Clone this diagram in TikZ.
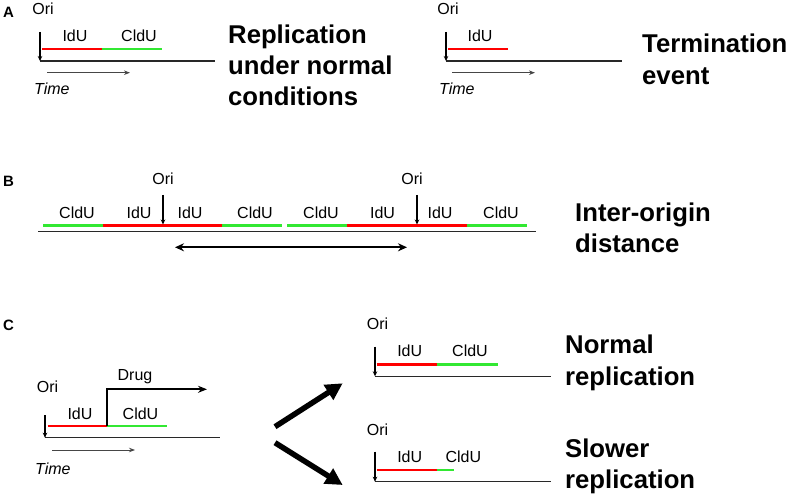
\documentclass[tikz,border=0pt]{standalone}
\usepackage{fontspec}
\setmainfont{Liberation Sans}
\usetikzlibrary{arrows.meta}
\definecolor{idured}{RGB}{255,0,0}
\definecolor{cldugreen}{RGB}{50,232,50}
\definecolor{dnagray}{RGB}{40,40,40}
\definecolor{timegray}{RGB}{70,70,70}
\tikzset{
  lbl/.style={font=\fontsize{16}{19}\selectfont, anchor=base, inner sep=0pt},
  timelbl/.style={font=\fontsize{16}{19}\selectfont\itshape, anchor=base west, inner sep=0pt},
  bigtxt/.style={font=\fontsize{25.7}{32}\selectfont\bfseries, anchor=base west, inner sep=0pt},
  paneltxt/.style={font=\fontsize{15}{18}\selectfont\bfseries, anchor=base west, inner sep=0pt},
  dna/.style={line width=1.3pt, draw=dnagray},
  oriarrow/.style={line width=1.2pt, draw=black, -{Stealth[length=5pt,width=4.5pt]}},
  iduseg/.style={line width=2.7pt, draw=idured},
  clduseg/.style={line width=2.7pt, draw=cldugreen},
  timearrow/.style={line width=1pt, draw=timegray, -{Stealth[length=6pt,width=4.5pt]}},
  distarrow/.style={line width=2.3pt, draw=black, {Stealth[length=9pt,width=8pt]}-{Stealth[length=9pt,width=8pt]}},
  drugarrow/.style={line width=2pt, draw=black, -{Stealth[length=9pt,width=7pt]}},
  bigarrow/.style={line width=5.5pt, draw=black, -{Triangle[length=17pt,width=17pt]}},
}
\begin{document}
\begin{tikzpicture}[x=1pt,y=-1pt]
\useasboundingbox[fill=white] (0,0) rectangle (790,497);

% ---------------- Panel A ----------------
\node[paneltxt] (pA) at (3,18) {A};
% left sketch
\node[lbl] (a1ori) at (43,15) {Ori};
\coordinate (a1top) at (40,32);
\coordinate (a1bot) at (40,61);
\coordinate (a1end) at (215,61);
\coordinate (a1r0) at (42,49);
\coordinate (a1r1) at (102,49);
\coordinate (a1g1) at (162,49);
\coordinate (a1t0) at (47,72.7);
\coordinate (a1t1) at (130,72.7);
\draw[dna] (a1bot) -- (a1end);
\draw[iduseg] (a1r0) -- (a1r1);
\draw[clduseg] (a1r1) -- (a1g1);
\draw[oriarrow] (a1top) -- (a1bot);
\draw[timearrow] (a1t0) -- (a1t1);
\node[lbl] (a1idu) at (75,42) {IdU};
\node[lbl] (a1cldu) at (139,42) {CldU};
\node[timelbl] (a1time) at (34,95) {Time};
\node[bigtxt] (a1t1l) at (228,43.5) {Replication};
\node[bigtxt] (a1t2l) at (228,75) {under normal};
\node[bigtxt] (a1t3l) at (228,106) {conditions};

% right sketch
\node[lbl] (a2ori) at (448,15) {Ori};
\coordinate (a2top) at (446,32);
\coordinate (a2bot) at (446,61);
\coordinate (a2end) at (622,61);
\coordinate (a2r0) at (448,49);
\coordinate (a2r1) at (508,49);
\coordinate (a2t0) at (452,72.7);
\coordinate (a2t1) at (535,72.7);
\draw[dna] (a2bot) -- (a2end);
\draw[iduseg] (a2r0) -- (a2r1);
\draw[oriarrow] (a2top) -- (a2bot);
\draw[timearrow] (a2t0) -- (a2t1);
\node[lbl] (a2idu) at (480,42) {IdU};
\node[timelbl] (a2time) at (439,95) {Time};
\node[bigtxt] (a2l1) at (642,53) {Termination};
\node[bigtxt] (a2l2) at (642,85) {event};

% ---------------- Panel B ----------------
\node[paneltxt] (pB) at (3,187) {B};
\coordinate (b0) at (38,231.7);
\coordinate (b1) at (536,231.7);
\draw[dna] (b0) -- (b1);
\draw[clduseg] (43,225.7) -- (103,225.7);
\draw[iduseg] (103,225.7) -- (222,225.7);
\draw[clduseg] (222,225.7) -- (282,225.7);
\draw[clduseg] (287,225.7) -- (347,225.7);
\draw[iduseg] (347,225.7) -- (467,225.7);
\draw[clduseg] (467,225.7) -- (527,225.7);
\node[lbl] (bori1) at (163,185) {Ori};
\node[lbl] (bori2) at (412,185) {Ori};
\coordinate (bo1top) at (163,195);
\coordinate (bo1bot) at (163,224.5);
\coordinate (bo2top) at (417,195);
\coordinate (bo2bot) at (417,224.5);
\draw[oriarrow] (bo1top) -- (bo1bot);
\draw[oriarrow] (bo2top) -- (bo2bot);
\node[lbl] (bl1) at (77,219) {CldU};
\node[lbl] (bl2) at (139,219) {IdU};
\node[lbl] (bl3) at (190,219) {IdU};
\node[lbl] (bl4) at (255,219) {CldU};
\node[lbl] (bl5) at (321,219) {CldU};
\node[lbl] (bl6) at (382.5,219) {IdU};
\node[lbl] (bl7) at (440,219) {IdU};
\node[lbl] (bl8) at (501,219) {CldU};
\coordinate (bd0) at (175,247.3);
\coordinate (bd1) at (407,247.3);
\draw[distarrow] (bd0) -- (bd1);
\node[bigtxt] (bt1) at (575,222) {Inter-origin};
\node[bigtxt] (bt2) at (575,253) {distance};

% ---------------- Panel C ----------------
\node[paneltxt] (pC) at (3,330) {C};
% left sketch
\node[lbl] (c1ori) at (47.5,392) {Ori};
\coordinate (c1top) at (45,415);
\coordinate (c1bot) at (45,437.7);
\coordinate (c1end) at (220,437.7);
\coordinate (c1r0) at (47.7,426);
\coordinate (c1r1) at (107.3,426);
\coordinate (c1g1) at (167,426);
\coordinate (c1d1) at (207,389.3);
\coordinate (c1t0) at (52,450);
\coordinate (c1t1) at (135,450);
\draw[dna] (c1bot) -- (c1end);
\draw[iduseg] (c1r0) -- (c1r1);
\draw[clduseg] (c1r1) -- (c1g1);
\draw[oriarrow] (c1top) -- (c1bot);
\draw[drugarrow] (c1r1) |- (c1d1);
\draw[timearrow] (c1t0) -- (c1t1);
\node[lbl] (c1drug) at (135,380) {Drug};
\node[lbl] (c1idu) at (80,419) {IdU};
\node[lbl] (c1cldu) at (140.5,419) {CldU};
\node[timelbl] (c1time) at (35,474) {Time};

% branching arrows
\coordinate (cb0) at (275,426.7);
\coordinate (cb1) at (342.7,383.3);
\coordinate (cb2) at (275,442.7);
\coordinate (cb3) at (342.7,485);
\draw[bigarrow] (cb0) -- (cb1);
\draw[bigarrow] (cb2) -- (cb3);

% right top sketch
\node[lbl] (c2ori) at (377.5,329) {Ori};
\coordinate (c2top) at (375,346.7);
\coordinate (c2bot) at (375,376.3);
\coordinate (c2end) at (551,376.3);
\draw[dna] (c2bot) -- (c2end);
\draw[iduseg] (376.7,364.3) -- (436.7,364.3);
\draw[clduseg] (436.7,364.3) -- (497.7,364.3);
\draw[oriarrow] (c2top) -- (c2bot);
\node[lbl] (c2idu) at (409.7,356.7) {IdU};
\node[lbl] (c2cldu) at (470,356.7) {CldU};
\node[bigtxt] (c2l1) at (565,353) {Normal};
\node[bigtxt] (c2l2) at (565,385) {replication};

% right bottom sketch
\node[lbl] (c3ori) at (377.5,435) {Ori};
\coordinate (c3top) at (375,451.7);
\coordinate (c3bot) at (375,481.7);
\coordinate (c3end) at (551,481.7);
\draw[dna] (c3bot) -- (c3end);
\draw[iduseg] (376.7,470) -- (436.7,470);
\draw[clduseg] (436.7,470) -- (454,470);
\draw[oriarrow] (c3top) -- (c3bot);
\node[lbl] (c3idu) at (409.7,462.7) {IdU};
\node[lbl] (c3cldu) at (463.3,462.7) {CldU};
\node[bigtxt] (c3l1) at (565,457) {Slower};
\node[bigtxt] (c3l2) at (565,488) {replication};
\end{tikzpicture}
\end{document}
